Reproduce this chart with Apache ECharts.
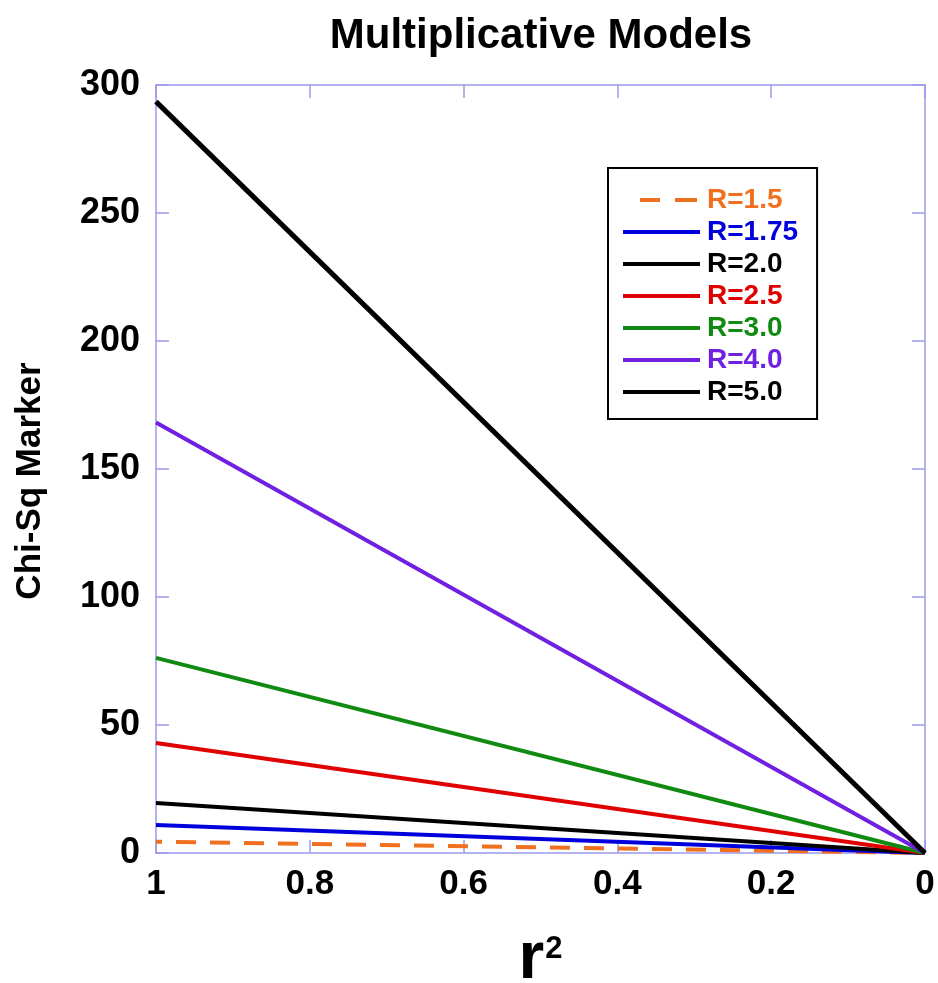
<!DOCTYPE html>
<html lang="en">
<head>
    <meta charset="UTF-8">
    <title>Multiplicative Models</title>
    <script src="https://cdn.jsdelivr.net/npm/echarts@6/dist/echarts.min.js"></script>
    <style>
        body { margin: 0; background: #fff; }
    </style>
</head>
<body>
    <div id="main" style="width: 938px;height: 983px;"></div>
    <script>
        // r^2 at the two ends of each line (axis runs 1 -> 0)
        var rSquared = [1, 0];
        var seriesNames = ['R=1.5', 'R=1.75', 'R=2.0', 'R=2.5', 'R=3.0', 'R=4.0', 'R=5.0'];
        var chiSq15 = [4.4, 0];
        var chiSq175 = [10.9, 0];
        var chiSq20 = [19.5, 0];
        var chiSq25 = [43, 0];
        var chiSq30 = [76.2, 0];
        var chiSq40 = [168.2, 0];
        var chiSq50 = [293.5, 0];
        var xTicks = [1, 0.8, 0.6, 0.4, 0.2, 0];
        var yTicks = [0, 50, 100, 150, 200, 250, 300];

        var values = [chiSq15, chiSq175, chiSq20, chiSq25, chiSq30, chiSq40, chiSq50];
        var colors = ['#f07020', '#0000dd', '#000000', '#e00000', '#108a10', '#7020e0', '#000000'];
        var widths = [4, 4, 4, 4, 4, 4, 5];
        var font = 'Liberation Sans, Arial, sans-serif';
        var frame = '#9a9aee';

        var series = [];
        for (var i = 0; i < seriesNames.length; i++) {
            var pts = [];
            for (var j = 0; j < rSquared.length; j++) {
                pts.push([rSquared[j], values[i][j]]);
            }
            series.push({
                name: seriesNames[i],
                type: 'line',
                data: pts,
                symbol: 'none',
                symbolKeepAspect: false,
                lineStyle: {
                    color: colors[i],
                    width: widths[i],
                    type: i == 0 ? [20, 14] : 'solid',
                    dashOffset: i == 0 ? 14 : 0
                },
                itemStyle: { color: colors[i] },
                z: 2 + i
            });
        }

        // legend icons: plain bars, two dashes for the dashed series
        var dashIcon = 'path://M0,0H0.01V4H0Z M17,0H37V4H17Z M52,0H74V4H52Z M76.99,0H77V4H76.99Z';
        var legendData = [];
        for (var i = 0; i < seriesNames.length; i++) {
            legendData.push({
                name: seriesNames[i],
                icon: i == 0 ? dashIcon : 'rect',
                textStyle: { color: colors[i] }
            });
        }

        var tickStyle = { inside: true, show: true, length: 13, lineStyle: { color: frame, width: 1.5 } };
        var lineStyleAxis = { show: true, onZero: false, lineStyle: { color: frame, width: 1.5 } };

        var myCharts = echarts.init(document.getElementById('main'));
        var option = {
            animation: false,
            title: {
                text: 'Multiplicative Models',
                left: 536,
                textAlign: 'center',
                top: 10,
                textStyle: { fontFamily: font, fontWeight: 'bold', fontSize: 42, color: '#000' }
            },
            legend: {
                orient: 'vertical',
                left: 608,
                top: 168,
                data: legendData,
                itemWidth: 77,
                itemHeight: 4,
                itemGap: 4,
                itemStyle: { borderWidth: 0 },
                padding: [18, 19, 13, 15],
                backgroundColor: '#fff',
                borderColor: '#000',
                borderWidth: 2,
                textStyle: { fontFamily: font, fontWeight: 'bold', fontSize: 28, padding: [0, 0, 0, 2] }
            },
            grid: {
                left: 156,
                right: 13,
                top: 85,
                bottom: 130,
                containLabel: false,
                outerBoundsMode: 'none'
            },
            xAxis: [{
                type: 'value',
                inverse: true,
                min: 0,
                max: 1,
                interval: 0.2,
                name: '{b|r}{s|2}',
                nameLocation: 'middle',
                nameGap: 74,
                nameTextStyle: {
                    rich: {
                        b: { fontFamily: font, fontWeight: 'bold', fontSize: 66, color: '#000' },
                        s: { fontFamily: font, fontWeight: 'bold', fontSize: 31, color: '#000', verticalAlign: 'top', padding: [7, 0, 0, 1] }
                    }
                },
                axisLine: lineStyleAxis,
                axisTick: tickStyle,
                splitLine: { show: false },
                axisLabel: {
                    margin: 14,
                    fontFamily: font, fontWeight: 'bold', fontSize: 35, color: '#000',
                    formatter: function (v) { return xTicks.indexOf(+v.toFixed(1)) >= 0 ? String(+v.toFixed(1)) : ''; }
                }
            }, {
                type: 'value',
                position: 'top',
                inverse: true,
                min: 0,
                max: 1,
                interval: 0.2,
                axisLine: lineStyleAxis,
                axisTick: tickStyle,
                axisLabel: { show: false },
                splitLine: { show: false }
            }],
            yAxis: [{
                type: 'value',
                position: 'left',
                min: 0,
                max: 300,
                interval: 50,
                name: 'Chi-Sq Marker',
                nameLocation: 'middle',
                nameGap: 108,
                nameTextStyle: { fontFamily: font, fontWeight: 'bold', fontSize: 35, color: '#000', padding: [0, 24, 0, 0] },
                axisLine: lineStyleAxis,
                axisTick: tickStyle,
                splitLine: { show: false },
                axisLabel: {
                    margin: 16,
                    fontFamily: font, fontWeight: 'bold', fontSize: 36, color: '#000',
                    formatter: function (v) { return yTicks.indexOf(v) >= 0 ? String(v) : ''; }
                }
            }, {
                type: 'value',
                position: 'right',
                min: 0,
                max: 300,
                interval: 50,
                axisLine: lineStyleAxis,
                axisTick: tickStyle,
                axisLabel: { show: false },
                splitLine: { show: false }
            }],
            series: series
        };
        myCharts.setOption(option, true);
    </script>
</body>
</html>
